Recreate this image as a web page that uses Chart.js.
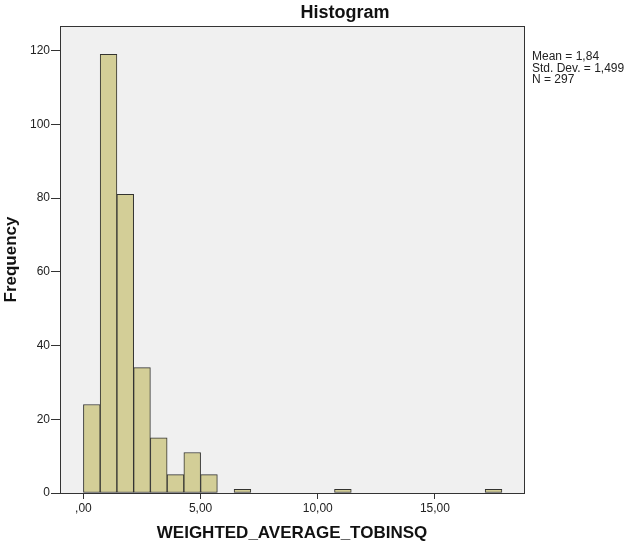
<!DOCTYPE html>
<html>
<head>
<meta charset="utf-8">
<script src="https://cdn.jsdelivr.net/npm/chart.js@4.4.1/dist/chart.umd.min.js"></script>
<style>
  html, body { margin: 0; padding: 0; background: #ffffff; }
  #wrap { width: 631px; height: 548px; position: relative; }
</style>
</head>
<body>
<div id="wrap"><canvas id="c"></canvas></div>
<script>
// ---- Data ----
const binWidth = 5 / 7;                 // histogram bin width
const binCounts = [24, 119, 81, 34, 15, 5, 11, 5, 0, 1, 0, 0, 0, 0, 0, 1, 0, 0, 0, 0, 0, 0, 0, 0, 1];
const xTickValues = [0, 5, 10, 15];
const xTickLabels = [',00', '5,00', '10,00', '15,00'];
const yTickValues = [0, 20, 40, 60, 80, 100, 120];
const yTickLabels = ['0', '20', '40', '60', '80', '100', '120'];
const statsLines = ['Mean = 1,84', 'Std. Dev. = 1,499', 'N = 297'];
const chartTitle = 'Histogram';
const xTitle = 'WEIGHTED_AVERAGE_TOBINSQ';
const yTitle = 'Frequency';

const points = binCounts.map((c, i) => ({ x: (i + 0.5) * binWidth, y: c }));

const FONT = "'Liberation Sans', Arial, Helvetica, sans-serif";

const frame = {
  id: 'frame',
  beforeDraw(chart) {
    const { ctx, chartArea: a } = chart;
    ctx.save();
    ctx.fillStyle = '#f0f0f0';
    ctx.fillRect(a.left, a.top, a.right - a.left, a.bottom - a.top);
    ctx.restore();
  },
  afterDraw(chart) {
    const { ctx, chartArea: a } = chart;
    ctx.save();
    ctx.strokeStyle = '#333333';
    ctx.lineWidth = 1;
    ctx.strokeRect(Math.round(a.left) + 0.5, Math.round(a.top) + 0.5,
                   Math.round(a.right - a.left), Math.round(a.bottom - a.top));
    // title
    ctx.fillStyle = '#111111';
    ctx.font = 'bold 18px ' + FONT;
    ctx.textAlign = 'center';
    ctx.textBaseline = 'middle';
    ctx.fillText(chartTitle, 345, 13);
    // stats box text
    ctx.font = '12px ' + FONT;
    ctx.textAlign = 'left';
    ctx.fillStyle = '#222222';
    statsLines.forEach((t, i) => ctx.fillText(t, 532, 57 + i * 11.5));
    ctx.restore();
  }
};

new Chart(document.getElementById('c'), {
  type: 'bar',
  data: {
    datasets: [{
      data: points,
      backgroundColor: '#d3ce97',
      borderColor: '#333330',
      borderWidth: 1,
      borderSkipped: false,
      barPercentage: 1.0,
      categoryPercentage: 1.0
    }]
  },
  options: {
    responsive: true,
    maintainAspectRatio: false,
    animation: false,
    layout: { padding: { top: 26, right: 107, left: 0, bottom: 0 } },
    plugins: { legend: { display: false }, tooltip: { enabled: false }, title: { display: false } },
    scales: {
      x: {
        type: 'linear',
        min: -1,
        max: 18.8,
        offset: false,
        afterBuildTicks: s => { s.ticks = xTickValues.map(v => ({ value: v })); },
        afterFit: s => { s.height = 55; },
        ticks: {
          autoSkip: false,
          maxRotation: 0,
          padding: 2,
          color: '#222222',
          font: { family: FONT, size: 12 },
          callback: (v) => { const i = xTickValues.indexOf(v); return i >= 0 ? xTickLabels[i] : ''; }
        },
        grid: { display: true, offset: false, drawOnChartArea: false, drawTicks: true, tickLength: 6, color: '#333333', tickColor: '#333333' },
        border: { display: true, color: '#333333' },
        title: { display: true, text: xTitle, color: '#111111', font: { family: FONT, size: 17, weight: 'bold' }, padding: { top: 0, bottom: 4 } }
      },
      y: {
        type: 'linear',
        min: 0,
        max: 126.7,
        afterBuildTicks: s => { s.ticks = yTickValues.map(v => ({ value: v })); },
        afterFit: s => { s.width = 60; },
        ticks: {
          padding: 1,
          color: '#222222',
          font: { family: FONT, size: 12 },
          callback: (v) => { const i = yTickValues.indexOf(v); return i >= 0 ? yTickLabels[i] : ''; }
        },
        grid: { display: true, offset: false, drawOnChartArea: false, drawTicks: true, tickLength: 9, color: '#333333', tickColor: '#333333' },
        border: { display: true, color: '#333333' },
        title: { display: true, text: yTitle, color: '#111111', font: { family: FONT, size: 17, weight: 'bold' }, padding: { top: 1, bottom: 0 } }
      }
    }
  },
  plugins: [frame]
});
</script>
</body>
</html>
